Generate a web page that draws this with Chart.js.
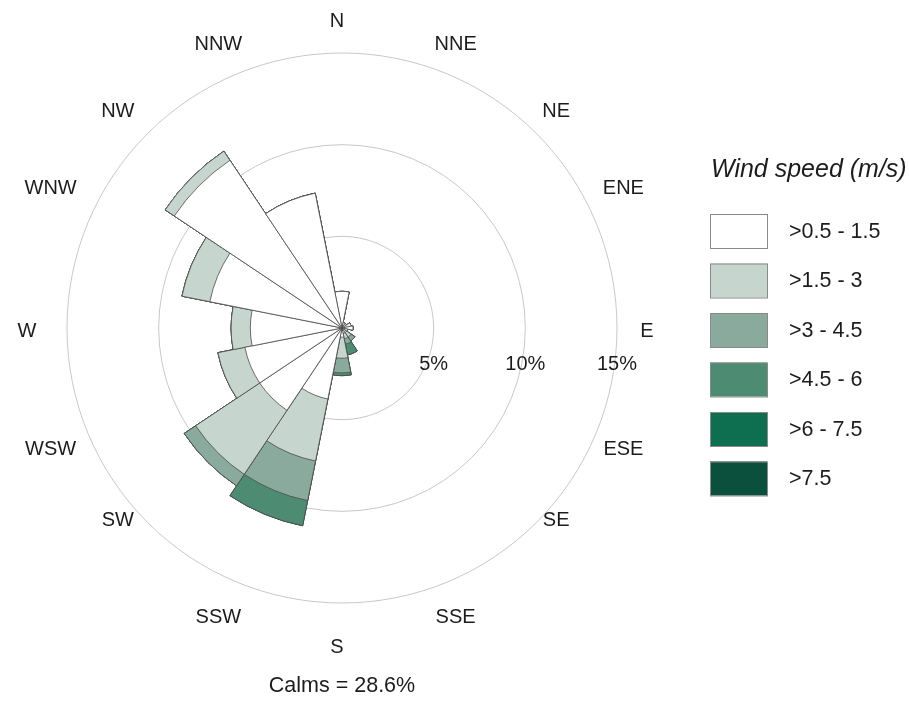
<!DOCTYPE html>
<html>
<head>
<meta charset="utf-8">
<script src="https://cdn.jsdelivr.net/npm/chart.js@4.4.1/dist/chart.umd.min.js"></script>
<style>
  html, body { margin: 0; padding: 0; background: #ffffff; }
  #wrap { width: 909px; height: 701px; position: relative; }
  canvas { display: block; }
</style>
</head>
<body>
<div id="wrap"><canvas id="rose" width="909" height="701"></canvas></div>
<script>
// ---------------- DATA ----------------
const directions = ['N', 'NNE', 'NE', 'ENE', 'E', 'ESE', 'SE', 'SSE',
                    'S', 'SSW', 'SW', 'WSW', 'W', 'WNW', 'NW', 'NNW'];
const speedClasses = ['>0.5 - 1.5', '>1.5 - 3', '>3 - 4.5', '>4.5 - 6', '>6 - 7.5', '>7.5'];
// frequency (%) of each speed class per direction
const freqClass1 = [2.0, 0.3, 0.3, 0.5, 0.6, 0.3, 0.3, 0.3, 0.5, 3.95, 5.4, 5.4, 5.0, 7.35, 11.0, 7.5];
const freqClass2 = [0, 0, 0, 0, 0, 0, 0.3, 0.3, 1.15, 3.45, 4.2, 1.5, 1.05, 1.55, 0.6, 0];
const freqClass3 = [0, 0, 0, 0, 0, 0, 0.25, 0.3, 0.8, 2.2, 0.75, 0, 0, 0, 0, 0];
const freqClass4 = [0, 0, 0, 0, 0, 0, 0, 0.6, 0.15, 1.4, 0, 0, 0, 0, 0, 0];
const freqClass5 = [0, 0, 0, 0, 0, 0, 0, 0, 0, 0, 0, 0, 0, 0, 0, 0];
const freqClass6 = [0, 0, 0, 0, 0, 0, 0, 0, 0, 0, 0, 0, 0, 0, 0, 0];
const radialTicks = [5, 10, 15];
const calmsPercent = 28.6;
const legendTitle = 'Wind speed (m/s)';

// ---------------- STYLE ----------------
const classColors = ['#ffffff', '#c6d6cf', '#89aa9c', '#4d8c73', '#0d6f50', '#0b4f3d'];
const FONT = "'Liberation Sans', Arial, sans-serif";
const TEXT = '#1c1c1c';
// small vertical nudges of the compass labels (px), to follow the original placement
const labelNudgeY = [0, 0, 0, -24, 0, 0, -30, 0, 6, 0, -30, 0, 0, -24, 0, 0];

// stacked (cumulative) rings, drawn largest first so inner bands sit on top
const classSeries = [freqClass1, freqClass2, freqClass3, freqClass4, freqClass5, freqClass6];
const cumulative = [];
classSeries.forEach((arr, k) => {
  cumulative.push(arr.map((v, i) => +(v + (k > 0 ? cumulative[k - 1][i] : 0)).toFixed(3)));
});
const datasets = classSeries.map((arr, k) => ({
  label: speedClasses[k],
  data: cumulative[k],
  backgroundColor: classColors[k],
  borderColor: '#4a4a4a',
  borderWidth: 0.8
}));

const decorPlugin = {
  id: 'decor',
  afterDraw(chart) {
    const ctx = chart.ctx;
    const r = chart.scales.r;
    ctx.save();
    // direction labels
    ctx.fillStyle = TEXT;
    ctx.font = '20px ' + FONT;
    ctx.textAlign = 'center';
    ctx.textBaseline = 'middle';
    const gap = 35;
    directions.forEach((d, i) => {
      const p = r.getPointPosition(i, r.drawingArea + gap, Math.PI / directions.length);
      ctx.fillText(d, p.x - 5, p.y + 3 + labelNudgeY[i]);
    });
    // radial tick labels
    radialTicks.forEach(v => {
      const x = r.xCenter + r.getDistanceFromCenterForValue(v);
      ctx.fillText(v + '%', x, r.yCenter + 36);
    });
    // legend
    const lx = 710, ly = 214, bw = 57, bh = 34, step = 49.5;
    ctx.textAlign = 'left';
    ctx.font = 'italic 25px ' + FONT;
    ctx.fillText(legendTitle, 711, 170);
    ctx.font = '21.5px ' + FONT;
    speedClasses.forEach((s, k) => {
      const y = ly + k * step;
      ctx.fillStyle = classColors[k];
      ctx.fillRect(lx, y, bw, bh);
      ctx.strokeStyle = '#8a8a8a';
      ctx.lineWidth = 1;
      ctx.strokeRect(lx + 0.5, y + 0.5, bw, bh);
      ctx.fillStyle = TEXT;
      ctx.fillText(s, 789, y + bh / 2 + 1);
    });
    ctx.restore();
  }
};

new Chart(document.getElementById('rose'), {
  type: 'polarArea',
  data: { labels: directions, datasets },
  options: {
    responsive: false,
    animation: false,
    layout: { padding: { left: 67, right: 292, top: 53, bottom: 2 } },
    scales: {
      r: {
        min: 0,
        max: 15,
        startAngle: -11.25,
        ticks: { display: false, stepSize: 5, z: 1 },
        grid: { color: '#c8c8c8', lineWidth: 1, circular: true },
        angleLines: { display: false },
        pointLabels: { display: false }
      }
    },
    plugins: {
      legend: { display: false },
      tooltip: { enabled: false },
      title: {
        display: true,
        position: 'bottom',
        fullSize: false,
        text: 'Calms = ' + calmsPercent + '%',
        color: TEXT,
        font: { family: FONT, size: 21.5, weight: 'normal' },
        padding: { top: 70, bottom: 0 }
      }
    }
  },
  plugins: [decorPlugin]
});
</script>
</body>
</html>
